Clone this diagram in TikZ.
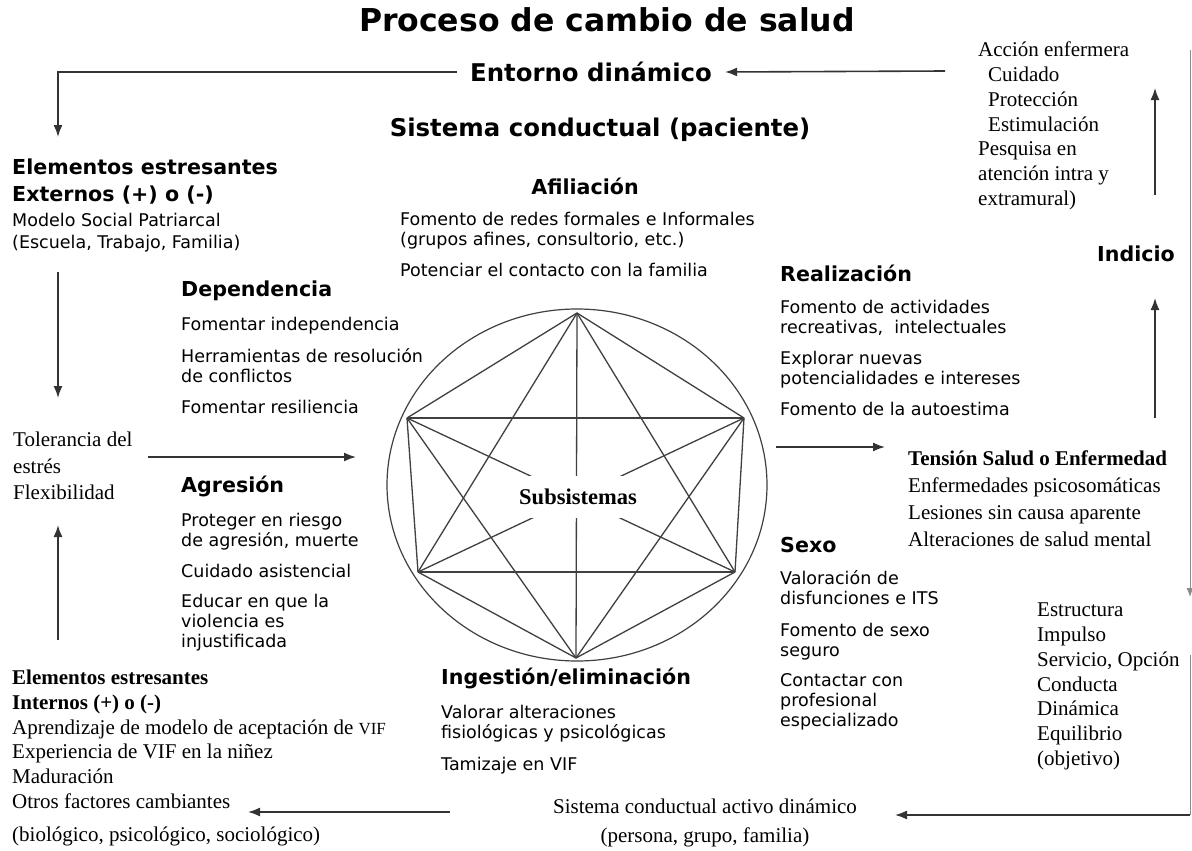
\documentclass[tikz,border=0pt]{standalone}
\usepackage{fontspec}
\setmainfont{Liberation Serif}
\setsansfont{DejaVu Sans}
\usepackage{tikz}
\usetikzlibrary{arrows.meta}
\usetikzlibrary{positioning}
\usetikzlibrary{shapes.geometric}

\tikzset{
  titulo/.style={font=\sffamily\bfseries\fontsize{31.5}{36}\selectfont, inner sep=0},
  grande/.style={font=\sffamily\bfseries\fontsize{24.4}{29}\selectfont, inner sep=0},
  cabeza/.style={font=\sffamily\bfseries\fontsize{20.6}{27}\selectfont, anchor=west, inner sep=0},
  lista/.style={font=\sffamily\fontsize{17.5}{20}\selectfont, align=left, anchor=north west, inner sep=0},
  serif/.style={font=\rmfamily\fontsize{21}{24.7}\selectfont, align=left, anchor=north west, inner sep=0},
  flecha/.style={-{Latex[length=12pt, width=9pt]}, draw=black!80, line width=1.6pt},
  borde/.style={draw=black!45, line width=0.9pt},
  arista/.style={draw=black!75, line width=1.3pt},
}

\begin{document}
\begin{tikzpicture}[x=1pt, y=-1pt]
\useasboundingbox (0,0) rectangle (1192,851);
\fill[white] (0,0) rectangle (1192,851);

% titulos
\node [titulo] (titulo) at (607,20) {Proceso de cambio de salud};
\node [grande, inner xsep=13pt] (entorno) at (591,72) {Entorno dinámico};
\node [grande] (sistema) at (600,130) {Sistema conductual (paciente)};

% lado derecho
\node [serif] (accion) at (978,42) {Acción enfermera\\\hspace*{10pt}Cuidado\\\hspace*{10pt}Protección\\\hspace*{10pt}Estimulación\\Pesquisa en\\atención intra y\\extramural)};
\node [cabeza] (indicio) at (1097,254) {Indicio};
\node [serif, font=\rmfamily\fontsize{21}{26.7}\selectfont] (tension) at (908,451) {\textbf{Tensión Salud o Enfermedad}\\Enfermedades psicosomáticas\\Lesiones sin causa aparente\\Alteraciones de salud mental};
\node [serif] (estructura) at (1037,603) {Estructura\\Impulso\\Servicio, Opción\\Conducta\\Dinámica\\Equilibrio\\(objetivo)};

% lado izquierdo
\node [cabeza, anchor=north west, align=left] (externos) at (12,159) {Elementos estresantes\\Externos (+) o (-)};
\node [lista] (externos-l) at (12,213) {Modelo Social Patriarcal\\[2pt](Escuela, Trabajo, Familia)};
\node [serif, font=\rmfamily\fontsize{21}{26.5}\selectfont] (tolerancia) at (13,432) {Tolerancia del\\estrés\\Flexibilidad};
\node [serif] (internos) at (12,670) {\textbf{Elementos estresantes}\\\textbf{Internos (+) o (-)}\\Aprendizaje de modelo de aceptación de {\fontsize{17}{20}\selectfont VIF}\\Experiencia de VIF en la niñez\\Maduración\\Otros factores cambiantes\\[9pt](biológico, psicológico, sociológico)};
\node [serif, anchor=north, align=center, font=\rmfamily\fontsize{21}{29}\selectfont] (activo) at (705,799) {Sistema conductual activo dinámico\\(persona, grupo, familia)};

% subsistemas
\node [cabeza, anchor=center] (afiliacion) at (585,186) {Afiliación};
\node [lista] (afiliacion-l) at (400,212) {Fomento de redes formales e Informales\\(grupos afines, consultorio, etc.)\\[11pt]Potenciar el contacto con la familia};
\node [cabeza] (dependencia) at (181,291) {Dependencia};
\node [lista] (dependencia-l) at (181,317) {Fomentar independencia\\[12pt]Herramientas de resolución\\de conflictos\\[11pt]Fomentar resiliencia};
\node [cabeza] (agresion) at (181,486) {Agresión};
\node [lista] (agresion-l) at (181,513) {Proteger en riesgo\\de agresión, muerte\\[11pt]Cuidado asistencial\\[10pt]Educar en que la\\violencia es\\injustificada};
\node [cabeza] (realizacion) at (780,273) {Realización};
\node [lista] (realizacion-l) at (780,300) {Fomento de actividades\\recreativas,\ \ intelectuales\\[11pt]Explorar nuevas\\potencialidades e intereses\\[11pt]Fomento de la autoestima};
\node [cabeza] (sexo) at (780,545) {Sexo};
\node [lista] (sexo-l) at (780,570) {Valoración de\\disfunciones e ITS\\[12pt]Fomento de sexo\\seguro\\[10pt]Contactar con\\profesional\\especializado};
\node [cabeza] (ingestion) at (441,678) {Ingestión/eliminación};
\node [lista] (ingestion-l) at (441,705) {Valorar alteraciones\\fisiológicas y psicológicas\\[12pt]Tamizaje en VIF};

% circulo y grafo
\node [ellipse, draw=black!75, line width=1.2pt, minimum width=380pt, minimum height=352pt] (circulo) at (577,485) {};
\coordinate (T) at (577,313);
\coordinate (UL) at (407,418);
\coordinate (UR) at (744,418);
\coordinate (LL) at (418,572);
\coordinate (LR) at (735,572);
\coordinate (B) at (576,658);
\foreach \a/\b in {T/UL, T/UR, T/LL, T/LR, T/B, UL/UR, UL/LL, UL/LR, UL/B, UR/LL, UR/LR, UR/B, LL/LR, LL/B, LR/B}
  \draw [arista] (\a) -- (\b);
\node [fill=white, minimum width=125pt, minimum height=42pt, font=\rmfamily\bfseries\fontsize{22.5}{26}\selectfont] (subsistemas) at (578,497) {Subsistemas};

% flechas
\coordinate (accion-w) at (945,71);
\coordinate (externos-n) at (58,137);
\coordinate (externos-s) at (58,272);
\coordinate (tolerancia-n) at (58,398);
\coordinate (internos-n) at (58,640);
\coordinate (tolerancia-s) at (58,525);
\coordinate (tolerancia-e) at (148,457);
\coordinate (circulo-w) at (356,457);
\coordinate (circulo-e) at (776,447);
\coordinate (tension-w) at (885,447);
\coordinate (tension-n) at (1155,418);
\coordinate (indicio-s) at (1155,298);
\coordinate (indicio-n) at (1155,195);
\coordinate (accion-e) at (1155,88);
\coordinate (borde-a) at (1190,50);
\coordinate (borde-b) at (1190,597);
\coordinate (borde-c) at (1190,655);
\coordinate (borde-d) at (1190,815);
\coordinate (activo-e) at (895,815);
\coordinate (activo-w) at (450,812);
\coordinate (internos-e) at (248,812);

\draw [flecha] (accion-w) -- (entorno.east);
\draw [flecha] (entorno.west) -| (externos-n);
\draw [flecha] (externos-s) -- (tolerancia-n);
\draw [flecha] (internos-n) -- (tolerancia-s);
\draw [flecha] (tolerancia-e) -- (circulo-w);
\draw [flecha] (circulo-e) -- (tension-w);
\draw [flecha] (tension-n) -- (indicio-s);
\draw [flecha] (indicio-n) -- (accion-e);
\draw [borde, -{Latex[length=9pt, width=7pt]}] (borde-a) -- (borde-b);
\draw [borde] (borde-c) -- (borde-d);
\draw [flecha] (borde-d) -- (activo-e);
\draw [flecha] (activo-w) -- (internos-e);
\end{tikzpicture}
\end{document}
